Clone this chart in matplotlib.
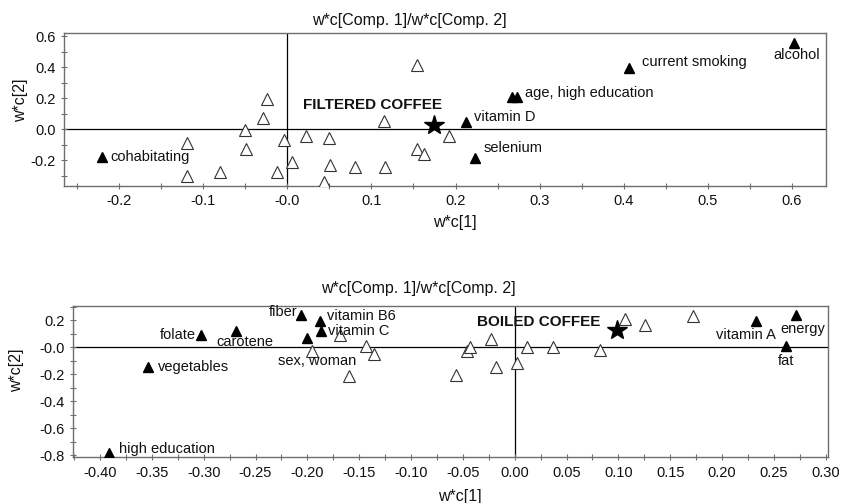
import matplotlib.pyplot as plt
from matplotlib.ticker import FixedLocator, FixedFormatter, MultipleLocator

plt.rcParams['font.family'] = ['Liberation Sans', 'DejaVu Sans']

# ---- filtered coffee (top panel) ----
top_open_x = [-0.120, -0.120, -0.080, -0.050, -0.049, -0.024, -0.029, -0.004,
              -0.012, 0.005, 0.022, 0.049, 0.044, 0.051, 0.080, 0.116,
              0.115, 0.154, 0.154, 0.163, 0.192]
top_open_y = [-0.086, -0.299, -0.273, -0.004, -0.127, 0.198, 0.073, -0.069,
              -0.275, -0.211, -0.043, -0.056, -0.342, -0.232, -0.243, -0.243,
              0.052, 0.415, -0.129, -0.159, -0.043]
top_fill_x = [-0.221, 0.213, 0.267, 0.273, 0.406, 0.603, 0.223]
top_fill_y = [-0.177, 0.045, 0.210, 0.210, 0.398, 0.555, -0.187]
top_labels = ['cohabitating', 'vitamin D', '', 'age, high education',
              'current smoking', 'alcohol', 'selenium']
top_star = (0.174, 0.026)

# ---- boiled coffee (bottom panel) ----
bot_open_x = [-0.1955, -0.1685, -0.1434, -0.1354, -0.160, -0.057, -0.0457,
              -0.043, -0.0229, -0.018, 0.0025, 0.0116, 0.0367, 0.0823,
              0.1064, 0.126, 0.1717]
bot_open_y = [-0.025, 0.089, 0.012, -0.047, -0.213, -0.205, -0.025, 0.004,
              0.064, -0.143, -0.119, 0.004, 0.004, -0.020, 0.212, 0.163, 0.232]
bot_fill_x = [-0.391, -0.354, -0.303, -0.269, -0.206, -0.188, -0.187, -0.200,
              0.2328, 0.2713, 0.2614]
bot_fill_y = [-0.781, -0.143, 0.091, 0.121, 0.239, 0.195, 0.123, 0.066,
              0.195, 0.237, 0.010]
bot_labels = ['high education', 'vegetables', 'folate', 'carotene', 'fiber',
              'vitamin B6', 'vitamin C', 'sex, woman', 'vitamin A', 'energy', 'fat']
bot_star = (0.099, 0.128)

# label placement (offset in pixels, alignment)
top_lab_pos = [(9, 0, 'left'), (8, 5, 'left'), (0, 0, 'left'), (8, 4, 'left'),
               (13, 6, 'left'), (3, -12, 'center'), (9, 10, 'left')]
bot_lab_pos = [(10, 4, 'left'), (10, 0, 'left'), (-5, 0, 'right'), (9, -11, 'center'),
               (-4, 3, 'right'), (7, 5, 'left'), (7, 0, 'left'), (10, -23, 'center'),
               (-10, -14, 'center'), (7, -14, 'center'), (0, -15, 'center')]

W, H = 848, 503
fig = plt.figure(figsize=(W / 100, H / 100), dpi=100)
ax1 = fig.add_axes([64 / W, 1 - 185.7 / H, (826 - 64) / W, (185.7 - 33.3) / H])
ax2 = fig.add_axes([72.7 / W, 1 - 457.3 / H, (828.3 - 72.7) / W, (457.3 - 305.7) / H])

spine_col = '#6e6e6e'
txt_col = '#111111'


def draw_panel(ax, ox, oy, fx, fy, labels, lab_pos, star, star_text, star_off):
    ax.axhline(0, color='black', lw=0.9, zorder=1)
    ax.axvline(0, color='black', lw=0.9, zorder=1)
    ax.plot(ox, oy, ls='none', marker='^', ms=8, mfc='white', mec='#333333',
            mew=0.8, zorder=3)
    ax.plot(fx, fy, ls='none', marker='^', ms=7.2, mfc='black', mec='black', zorder=3)
    ax.plot([star[0]], [star[1]], ls='none', marker='*', ms=15, color='black', zorder=4)
    for x, y, lab, (dx, dy, ha) in zip(fx, fy, labels, lab_pos):
        if lab:
            ax.annotate(lab, (x, y), xytext=(dx, dy), textcoords='offset pixels',
                        ha=ha, va='center', fontsize=10.5, color=txt_col)
    ax.annotate(star_text, star, xytext=star_off, textcoords='offset pixels',
                ha='center', va='center', fontsize=11, fontweight='bold', color=txt_col)
    for s in ax.spines.values():
        s.set_color(spine_col)
        s.set_linewidth(1.0)
    ax.tick_params(which='both', direction='inout', colors=spine_col,
                   labelcolor=txt_col, labelsize=10.5, length=5, width=0.8)
    ax.tick_params(which='minor', length=4)


draw_panel(ax1, top_open_x, top_open_y, top_fill_x, top_fill_y, top_labels,
           top_lab_pos, top_star, 'FILTERED COFFEE', (-61, 20))
ax1.set_xlim(-0.266, 0.641)
ax1.set_ylim(-0.364, 0.619)
xt1 = [-0.2, -0.1, 0.0, 0.1, 0.2, 0.3, 0.4, 0.5, 0.6]
ax1.xaxis.set_major_locator(FixedLocator(xt1))
ax1.xaxis.set_major_formatter(FixedFormatter(['-0.2', '-0.1', '-0.0', '0.1', '0.2',
                                              '0.3', '0.4', '0.5', '0.6']))
ax1.xaxis.set_minor_locator(MultipleLocator(0.05))
yt1 = [-0.2, 0.0, 0.2, 0.4, 0.6]
ax1.yaxis.set_major_locator(FixedLocator(yt1))
ax1.yaxis.set_major_formatter(FixedFormatter(['-0.2', '0.0', '0.2', '0.4', '0.6']))
ax1.yaxis.set_minor_locator(MultipleLocator(0.1))

draw_panel(ax2, bot_open_x, bot_open_y, bot_fill_x, bot_fill_y, bot_labels,
           bot_lab_pos, bot_star, 'BOILED COFFEE', (-79, 8))
ax2.set_xlim(-0.4264, 0.3025)
ax2.set_ylim(-0.815, 0.308)
xt2 = [-0.40, -0.35, -0.30, -0.25, -0.20, -0.15, -0.10, -0.05, 0.0,
       0.05, 0.10, 0.15, 0.20, 0.25, 0.30]
ax2.xaxis.set_major_locator(FixedLocator(xt2))
ax2.xaxis.set_major_formatter(FixedFormatter(['%.2f' % v if v != 0 else '0.00' for v in xt2]))
ax2.xaxis.set_minor_locator(MultipleLocator(0.025))
yt2 = [-0.8, -0.6, -0.4, -0.2, 0.0, 0.2]
ax2.yaxis.set_major_locator(FixedLocator(yt2))
ax2.yaxis.set_major_formatter(FixedFormatter(['-0.8', '-0.6', '-0.4', '-0.2', '-0.0', '0.2']))
ax2.yaxis.set_minor_locator(MultipleLocator(0.1))

# titles and axis labels
title = 'w*c[Comp. 1]/w*c[Comp. 2]'
fig.text(409 / W, 1 - 20.7 / H, title, ha='center', va='center', fontsize=11.5, color=txt_col)
fig.text(418.5 / W, 1 - 288.3 / H, title, ha='center', va='center', fontsize=11.5, color=txt_col)
fig.text(455 / W, 1 - 223 / H, 'w*c[1]', ha='center', va='center', fontsize=11.5, color=txt_col)
fig.text(459.7 / W, 1 - 496.7 / H, 'w*c[1]', ha='center', va='center', fontsize=11.5, color=txt_col)
fig.text(21 / W, 1 - 100 / H, 'w*c[2]', ha='center', va='center', rotation=90,
         fontsize=11.5, color=txt_col)
fig.text(16.7 / W, 1 - 370 / H, 'w*c[2]', ha='center', va='center', rotation=90,
         fontsize=11.5, color=txt_col)

fig.savefig('out.png', dpi=100)
